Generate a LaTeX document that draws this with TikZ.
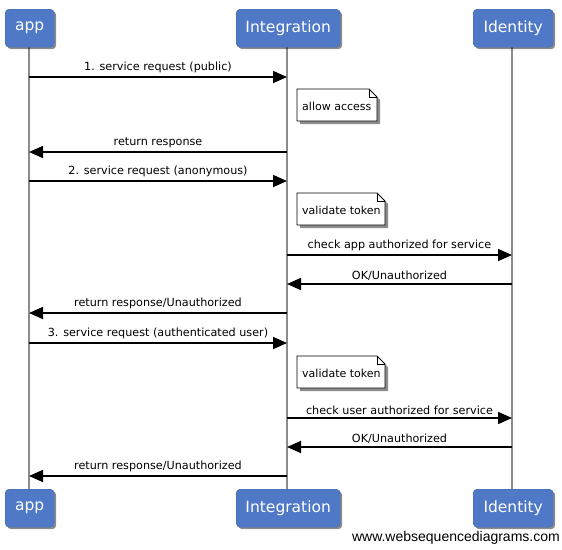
\documentclass[tikz,border=0pt]{standalone}
\usepackage{fontspec}
\setmainfont{DejaVu Sans}
\newfontfamily\wmfont{Liberation Sans}
\usetikzlibrary{arrows.meta,shadows}
\definecolor{boxblue}{HTML}{4F79C6}
\definecolor{lifegray}{HTML}{8C8C8C}
\tikzset{
  part/.style={rounded corners=4pt, fill=boxblue, draw=boxblue!85!black, line width=0.4pt,
    drop shadow={shadow xshift=2pt, shadow yshift=-2pt, opacity=0.45, fill=black},
    inner sep=0pt, anchor=north west},
  parttxt/.style={text=white, font=\fontsize{15.5}{17}\selectfont, inner sep=0pt},
  lifeline/.style={draw=lifegray, line width=1.6pt},
  msg/.style={draw=black, line width=1.6pt, -{Triangle[length=14pt,width=12pt]}},
  msglabel/.style={font=\fontsize{11.2}{13}\selectfont, above, inner sep=0pt, yshift=3pt},
  notetxt/.style={font=\fontsize{11}{13}\selectfont, inner sep=0pt},
}
\newcommand\mynote[5]{% name, x, y, w, text
  \coordinate (#1-nw) at (#2,#3);
  \fill[black!45] (#2+3,#3+3) -- (#2+#4+3-8,#3+3) -- (#2+#4+3,#3+3+8) -- (#2+#4+3,#3+32+3) -- (#2+3,#3+32+3) -- cycle;
  \draw[fill=white, line width=0.8pt] (#1-nw) -- (#2+#4-8,#3) -- (#2+#4,#3+8) -- (#2+#4,#3+32) -- (#2,#3+32) -- cycle;
  \draw[line width=0.6pt] (#2+#4-8,#3) -- (#2+#4-8,#3+8) -- (#2+#4,#3+8);
  \node[notetxt, anchor=west] (#1) at (#2+5,#3+17) {#5};
}
\begin{document}
\begin{tikzpicture}[x=1pt,y=-1pt]
\useasboundingbox[fill=white] (0,0) rectangle (562,549);
% lifelines
\coordinate (appT) at (29,47); \coordinate (appB) at (29,489);
\coordinate (intT) at (287,47); \coordinate (intB) at (287,489);
\coordinate (idT) at (512,47); \coordinate (idB) at (512,489);
\draw[lifeline] (appT) -- (appB);
\draw[lifeline] (intT) -- (intB);
\draw[lifeline] (idT) -- (idB);
% participants
\node[part, minimum width=49pt, minimum height=38pt] (app1) at (5,9) {};
\node[parttxt] (app1t) at (app1.center) {app};
\node[part, minimum width=104pt, minimum height=38pt] (int1) at (236,9) {};
\node[parttxt] (int1t) at (int1.center) {Integration};
\node[part, minimum width=80pt, minimum height=38pt] (id1) at (473,9) {};
\node[parttxt] (id1t) at (id1.center) {Identity};
\node[part, minimum width=49pt, minimum height=38pt] (app2) at (5,489) {};
\node[parttxt] (app2t) at (app2.center) {app};
\node[part, minimum width=104pt, minimum height=38pt] (int2) at (236,489) {};
\node[parttxt] (int2t) at (int2.center) {Integration};
\node[part, minimum width=80pt, minimum height=38pt] (id2) at (473,489) {};
\node[parttxt] (id2t) at (id2.center) {Identity};
% message endpoints
\coordinate (a1) at (29,77);  \coordinate (i1) at (287,77);
\coordinate (i2) at (287,152); \coordinate (a2) at (29,152);
\coordinate (a3) at (29,181); \coordinate (i3) at (287,181);
\coordinate (i4) at (287,255); \coordinate (d4) at (512,255);
\coordinate (d5) at (512,284); \coordinate (i5) at (287,284);
\coordinate (i6) at (287,313); \coordinate (a6) at (29,313);
\coordinate (a7) at (29,343); \coordinate (i7) at (287,343);
\coordinate (i8) at (287,418); \coordinate (d8) at (512,418);
\coordinate (d9) at (512,447); \coordinate (i9) at (287,447);
\coordinate (i10) at (287,476); \coordinate (a10) at (29,476);
\draw[msg] (a1) -- node[msglabel] {1. service request (public)} (i1);
\mynote{n1}{297}{89}{80}{allow access}
\draw[msg] (i2) -- node[msglabel] {return response} (a2);
\draw[msg] (a3) -- node[msglabel] {2. service request (anonymous)} (i3);
\mynote{n2}{297}{193}{88}{validate token}
\draw[msg] (i4) -- node[msglabel] {check app authorized for service} (d4);
\draw[msg] (d5) -- node[msglabel] {OK/Unauthorized} (i5);
\draw[msg] (i6) -- node[msglabel] {return response/Unauthorized} (a6);
\draw[msg] (a7) -- node[msglabel] {3. service request (authenticated user)} (i7);
\mynote{n3}{297}{356}{88}{validate token}
\draw[msg] (i8) -- node[msglabel] {check user authorized for service} (d8);
\draw[msg] (d9) -- node[msglabel] {OK/Unauthorized} (i9);
\draw[msg] (i10) -- node[msglabel] {return response/Unauthorized} (a10);
\node[font=\wmfont\fontsize{14}{16}\selectfont, anchor=east, inner sep=0pt] (wm) at (560,538) {www.websequencediagrams.com};
\end{tikzpicture}
\end{document}
